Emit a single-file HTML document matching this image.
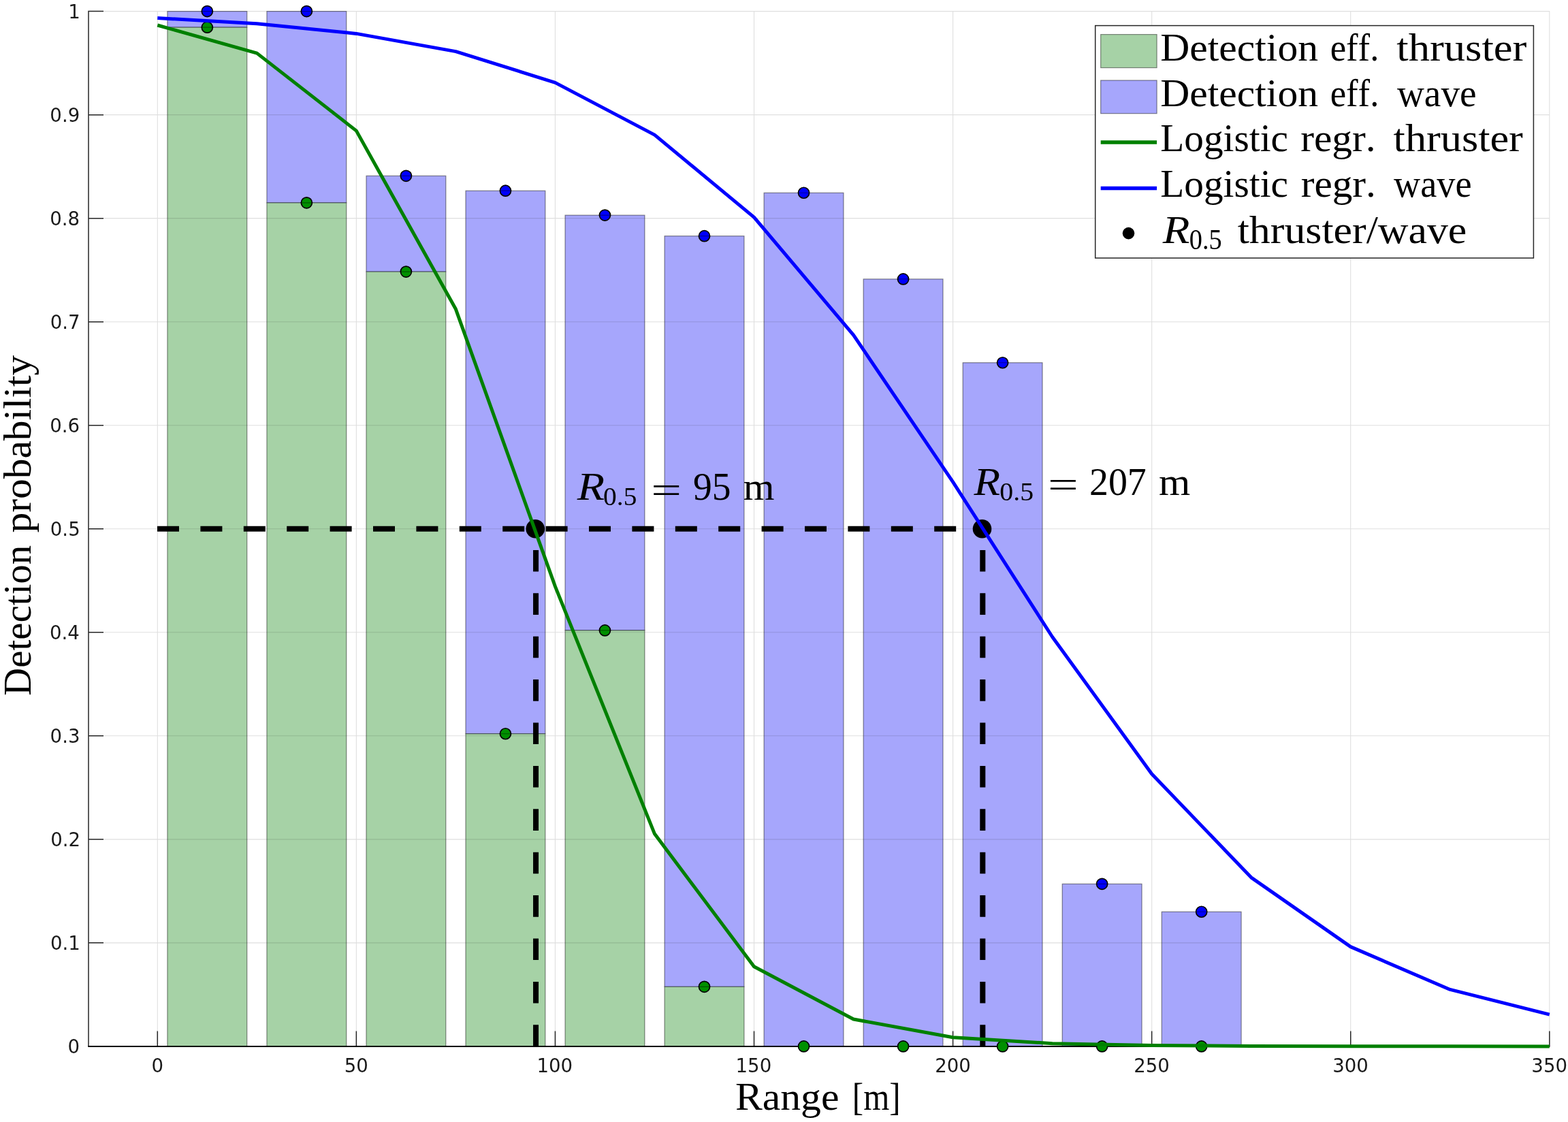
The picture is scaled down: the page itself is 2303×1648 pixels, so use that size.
<!DOCTYPE html><html><head><meta charset="utf-8"><title>Detection probability vs range</title>
<style>html,body{margin:0;padding:0;background:#fff;overflow:hidden;}svg{display:block;}text{font-kerning:none;font-variant-ligatures:none;}.tk{font-family:"DejaVu Sans","Liberation Sans",sans-serif;fill:#1a1a1a;}.tx{font-family:"Liberation Serif",serif;fill:#000;}.ti{font-family:"Liberation Serif",serif;font-style:italic;fill:#000;}</style></head><body>
<svg width="2303" height="1648" viewBox="0 0 2303 1648">
<rect x="0" y="0" width="2303" height="1648" fill="#fff"/>
<rect x="245.9" y="16.6" width="116.83" height="23.56" fill="#a6a6fc" stroke="#000" stroke-opacity="0.45" stroke-width="1.2"/>
<rect x="245.9" y="40.16" width="116.83" height="1496.74" fill="#a6d2a6" stroke="#000" stroke-opacity="0.45" stroke-width="1.2"/>
<rect x="391.94" y="16.6" width="116.83" height="281.26" fill="#a6a6fc" stroke="#000" stroke-opacity="0.45" stroke-width="1.2"/>
<rect x="391.94" y="297.86" width="116.83" height="1239.04" fill="#a6d2a6" stroke="#000" stroke-opacity="0.45" stroke-width="1.2"/>
<rect x="537.98" y="258.33" width="116.83" height="140.78" fill="#a6a6fc" stroke="#000" stroke-opacity="0.45" stroke-width="1.2"/>
<rect x="537.98" y="399.11" width="116.83" height="1137.79" fill="#a6d2a6" stroke="#000" stroke-opacity="0.45" stroke-width="1.2"/>
<rect x="684.01" y="280.22" width="116.83" height="797.55" fill="#a6a6fc" stroke="#000" stroke-opacity="0.45" stroke-width="1.2"/>
<rect x="684.01" y="1077.77" width="116.83" height="459.13" fill="#a6d2a6" stroke="#000" stroke-opacity="0.45" stroke-width="1.2"/>
<rect x="830.05" y="316.1" width="116.83" height="609.79" fill="#a6a6fc" stroke="#000" stroke-opacity="0.45" stroke-width="1.2"/>
<rect x="830.05" y="925.89" width="116.83" height="611.01" fill="#a6d2a6" stroke="#000" stroke-opacity="0.45" stroke-width="1.2"/>
<rect x="976.08" y="346.66" width="116.83" height="1102.67" fill="#a6a6fc" stroke="#000" stroke-opacity="0.45" stroke-width="1.2"/>
<rect x="976.08" y="1449.33" width="116.83" height="87.57" fill="#a6d2a6" stroke="#000" stroke-opacity="0.45" stroke-width="1.2"/>
<rect x="1122.12" y="283.26" width="116.83" height="1253.64" fill="#a6a6fc" stroke="#000" stroke-opacity="0.45" stroke-width="1.2"/>
<rect x="1268.15" y="409.9" width="116.83" height="1127" fill="#a6a6fc" stroke="#000" stroke-opacity="0.45" stroke-width="1.2"/>
<rect x="1414.19" y="532.74" width="116.83" height="1004.16" fill="#a6a6fc" stroke="#000" stroke-opacity="0.45" stroke-width="1.2"/>
<rect x="1560.23" y="1298.36" width="116.83" height="238.54" fill="#a6a6fc" stroke="#000" stroke-opacity="0.45" stroke-width="1.2"/>
<rect x="1706.26" y="1339.26" width="116.83" height="197.64" fill="#a6a6fc" stroke="#000" stroke-opacity="0.45" stroke-width="1.2"/>
<path d="M231.3 16.6V1536.9M523.37 16.6V1536.9M815.44 16.6V1536.9M1107.51 16.6V1536.9M1399.59 16.6V1536.9M1691.66 16.6V1536.9M1983.73 16.6V1536.9M2275.8 16.6V1536.9M130.8 1384.87H2276.3M130.8 1232.84H2276.3M130.8 1080.81H2276.3M130.8 928.78H2276.3M130.8 776.75H2276.3M130.8 624.72H2276.3M130.8 472.69H2276.3M130.8 320.66H2276.3M130.8 168.63H2276.3M130.8 16.6H2276.3" stroke="#262626" stroke-opacity="0.15" stroke-width="1.1" fill="none"/>
<path d="M130 15.8V1536.9M130 1536.9H152M130 1384.87H152M130 1232.84H152M130 1080.81H152M130 928.78H152M130 776.75H152M130 624.72H152M130 472.69H152M130 320.66H152M130 168.63H152M130 16.6H152M231.3 1536.9V1514.6M523.37 1536.9V1514.6M815.44 1536.9V1514.6M1107.51 1536.9V1514.6M1399.59 1536.9V1514.6M1691.66 1536.9V1514.6M1983.73 1536.9V1514.6M2275.8 1536.9V1514.6" stroke="#262626" stroke-width="1.5" fill="none"/>
<path d="M129.3 1536.9H2276.3" stroke="#000" stroke-width="2" fill="none"/>
<circle cx="304.32" cy="16.6" r="8" fill="#0000ff" stroke="#000" stroke-width="1.7"/>
<circle cx="304.32" cy="40.16" r="8" fill="#009000" stroke="#000" stroke-width="1.7"/>
<circle cx="450.35" cy="16.6" r="8" fill="#0000ff" stroke="#000" stroke-width="1.7"/>
<circle cx="450.35" cy="297.86" r="8" fill="#009000" stroke="#000" stroke-width="1.7"/>
<circle cx="596.39" cy="258.33" r="8" fill="#0000ff" stroke="#000" stroke-width="1.7"/>
<circle cx="596.39" cy="399.11" r="8" fill="#009000" stroke="#000" stroke-width="1.7"/>
<circle cx="742.43" cy="280.22" r="8" fill="#0000ff" stroke="#000" stroke-width="1.7"/>
<circle cx="742.43" cy="1077.77" r="8" fill="#009000" stroke="#000" stroke-width="1.7"/>
<circle cx="888.46" cy="316.1" r="8" fill="#0000ff" stroke="#000" stroke-width="1.7"/>
<circle cx="888.46" cy="925.89" r="8" fill="#009000" stroke="#000" stroke-width="1.7"/>
<circle cx="1034.5" cy="346.66" r="8" fill="#0000ff" stroke="#000" stroke-width="1.7"/>
<circle cx="1034.5" cy="1449.33" r="8" fill="#009000" stroke="#000" stroke-width="1.7"/>
<circle cx="1180.53" cy="283.26" r="8" fill="#0000ff" stroke="#000" stroke-width="1.7"/>
<circle cx="1180.53" cy="1536.9" r="8" fill="#009000" stroke="#000" stroke-width="1.7"/>
<circle cx="1326.57" cy="409.9" r="8" fill="#0000ff" stroke="#000" stroke-width="1.7"/>
<circle cx="1326.57" cy="1536.9" r="8" fill="#009000" stroke="#000" stroke-width="1.7"/>
<circle cx="1472.6" cy="532.74" r="8" fill="#0000ff" stroke="#000" stroke-width="1.7"/>
<circle cx="1472.6" cy="1536.9" r="8" fill="#009000" stroke="#000" stroke-width="1.7"/>
<circle cx="1618.64" cy="1298.36" r="8" fill="#0000ff" stroke="#000" stroke-width="1.7"/>
<circle cx="1618.64" cy="1536.9" r="8" fill="#009000" stroke="#000" stroke-width="1.7"/>
<circle cx="1764.68" cy="1339.26" r="8" fill="#0000ff" stroke="#000" stroke-width="1.7"/>
<circle cx="1764.68" cy="1536.9" r="8" fill="#009000" stroke="#000" stroke-width="1.7"/>
<path d="M295.32 16.6H313.32M295.32 40.16H313.32M441.35 16.6H459.35M441.35 297.86H459.35M587.39 258.33H605.39M587.39 399.11H605.39M733.43 280.22H751.43M733.43 1077.77H751.43M879.46 316.1H897.46M879.46 925.89H897.46M1025.5 346.66H1043.5M1025.5 1449.33H1043.5M1171.53 283.26H1189.53M1317.57 409.9H1335.57M1463.6 532.74H1481.6M1609.64 1298.36H1627.64M1755.68 1339.26H1773.68" stroke="#000" stroke-opacity="0.4" stroke-width="1.2" fill="none"/>
<path d="M231 776.75H1442.52" stroke="#000" stroke-width="8" stroke-dasharray="32 31.4" fill="none"/>
<path d="M787.04 1536.9V776.75" stroke="#000" stroke-width="8" stroke-dasharray="31.6 31.8" fill="none"/>
<path d="M1443.32 1536.9V776.75" stroke="#000" stroke-width="8" stroke-dasharray="31.6 31.8" fill="none"/>
<circle cx="786.24" cy="776.75" r="13.8" fill="#000"/>
<circle cx="1442.52" cy="776.75" r="13.8" fill="#000"/>
<polyline points="231.3,26.52 377.34,34.68 523.37,49.39 669.41,75.62 815.44,121.35 961.48,198.12 1107.51,319.12 1253.55,492.12 1399.59,707.9 1545.62,935.48 1691.66,1136.74 1837.69,1288.84 1983.73,1390.67 2129.76,1453.44 2275.8,1490.18" stroke="#0000ff" stroke-width="5.0" fill="none" stroke-linejoin="round"/>
<polyline points="231.3,37.03 377.34,78.1 523.37,192.12 669.41,454.09 815.44,861.44 961.48,1224.84 1107.51,1419.83 1253.55,1497 1399.59,1523.78 1545.62,1532.64 1691.66,1535.52 1837.69,1536.45 1983.73,1536.76 2129.76,1536.85 2275.8,1536.88" stroke="#008000" stroke-width="5.0" fill="none" stroke-linejoin="round"/>
<text class="tk" x="99.57" y="1547.45" font-size="27.6">0</text>
<text class="tk" x="73.95" y="1395.42" font-size="27.6">0.1</text>
<text class="tk" x="74.17" y="1243.39" font-size="27.6">0.2</text>
<text class="tk" x="73.62" y="1091.36" font-size="27.6">0.3</text>
<text class="tk" x="72.96" y="939.33" font-size="27.6">0.4</text>
<text class="tk" x="73.82" y="787.3" font-size="27.6">0.5</text>
<text class="tk" x="73.15" y="635.27" font-size="27.6">0.6</text>
<text class="tk" x="73.77" y="483.24" font-size="27.6">0.7</text>
<text class="tk" x="73.29" y="331.21" font-size="27.6">0.8</text>
<text class="tk" x="73.35" y="179.18" font-size="27.6">0.9</text>
<text class="tk" x="100.29" y="27.16" font-size="27.6">1</text>
<text class="tk" x="222.53" y="1574.6" font-size="27.6">0</text>
<text class="tk" x="505.66" y="1574.6" font-size="27.6">50</text>
<text class="tk" x="788.5" y="1574.6" font-size="27.6">100</text>
<text class="tk" x="1080.57" y="1574.6" font-size="27.6">150</text>
<text class="tk" x="1373.15" y="1574.6" font-size="27.6">200</text>
<text class="tk" x="1665.22" y="1574.6" font-size="27.6">250</text>
<text class="tk" x="1957.25" y="1574.6" font-size="27.6">300</text>
<text class="tk" x="2249.33" y="1574.6" font-size="27.6">350</text>
<text class="tx" x="1079.98" y="1629.9" font-size="58" textLength="152.49" lengthAdjust="spacingAndGlyphs">Range</text>
<text class="tx" x="1251.86" y="1629.9" font-size="58" textLength="70.78" lengthAdjust="spacingAndGlyphs">[m]</text>
<text class="tx" transform="translate(44.6 1021.94) rotate(-90)" x="0" y="0" font-size="58" textLength="221.2" lengthAdjust="spacingAndGlyphs">Detection</text>
<text class="tx" transform="translate(44.6 782.56) rotate(-90)" x="0" y="0" font-size="58" textLength="260.79" lengthAdjust="spacingAndGlyphs">probability</text>
<text class="ti" x="847.65" y="734.4" font-size="58" textLength="40.34" lengthAdjust="spacingAndGlyphs">R</text>
<text class="tx" x="886.1" y="742" font-size="37" textLength="49.24" lengthAdjust="spacingAndGlyphs">0.5</text>
<text class="tx" x="956.34" y="738.9" font-size="58" textLength="44.84" lengthAdjust="spacingAndGlyphs">=</text>
<text class="tx" x="1017.91" y="734.4" font-size="58" textLength="55.56" lengthAdjust="spacingAndGlyphs">95</text>
<text class="tx" x="1091.86" y="734.4" font-size="58" textLength="45.75" lengthAdjust="spacingAndGlyphs">m</text>
<text class="ti" x="1430.54" y="726.6" font-size="58" textLength="38.61" lengthAdjust="spacingAndGlyphs">R</text>
<text class="tx" x="1468.38" y="735" font-size="37" textLength="49.77" lengthAdjust="spacingAndGlyphs">0.5</text>
<text class="tx" x="1539.04" y="731.1" font-size="58" textLength="44.84" lengthAdjust="spacingAndGlyphs">=</text>
<text class="tx" x="1599.94" y="726.6" font-size="58" textLength="83.87" lengthAdjust="spacingAndGlyphs">207</text>
<text class="tx" x="1702.05" y="726.6" font-size="58" textLength="46.28" lengthAdjust="spacingAndGlyphs">m</text>
<rect x="1608.7" y="37.6" width="643.7" height="341.4" fill="#fff" stroke="#262626" stroke-width="1.5"/>
<rect x="1616.7" y="50.6" width="82.4" height="48.9" fill="#a6d2a6" stroke="#000" stroke-opacity="0.45" stroke-width="1.2"/>
<rect x="1616.7" y="118" width="82.4" height="48.7" fill="#a6a6fc" stroke="#000" stroke-opacity="0.45" stroke-width="1.2"/>
<path d="M1616.7 209H1699.1" stroke="#008000" stroke-width="5.5"/>
<path d="M1616.7 276.6H1699.1" stroke="#0000ff" stroke-width="5.5"/>
<circle cx="1657.5" cy="342.6" r="8.8" fill="#000"/>
<text class="tx" x="1704.18" y="88.6" font-size="58" textLength="231.92" lengthAdjust="spacingAndGlyphs">Detection</text>
<text class="tx" x="1953.64" y="88.6" font-size="58" textLength="71.74" lengthAdjust="spacingAndGlyphs">eff.</text>
<text class="tx" x="2051.39" y="88.6" font-size="58" textLength="190.96" lengthAdjust="spacingAndGlyphs">thruster</text>
<text class="tx" x="1704.18" y="156" font-size="58" textLength="231.92" lengthAdjust="spacingAndGlyphs">Detection</text>
<text class="tx" x="1953.64" y="156" font-size="58" textLength="71.74" lengthAdjust="spacingAndGlyphs">eff.</text>
<text class="tx" x="2051.95" y="156" font-size="58" textLength="116.67" lengthAdjust="spacingAndGlyphs">wave</text>
<text class="tx" x="1704.25" y="221.8" font-size="58" textLength="187.81" lengthAdjust="spacingAndGlyphs">Logistic</text>
<text class="tx" x="1910.21" y="221.8" font-size="58" textLength="110.51" lengthAdjust="spacingAndGlyphs">regr.</text>
<text class="tx" x="2046.59" y="221.8" font-size="58" textLength="190.26" lengthAdjust="spacingAndGlyphs">thruster</text>
<text class="tx" x="1704.25" y="289.2" font-size="58" textLength="187.81" lengthAdjust="spacingAndGlyphs">Logistic</text>
<text class="tx" x="1910.71" y="289.2" font-size="58" textLength="110.19" lengthAdjust="spacingAndGlyphs">regr.</text>
<text class="tx" x="2046.95" y="289.2" font-size="58" textLength="114.64" lengthAdjust="spacingAndGlyphs">wave</text>
<text class="ti" x="1707.65" y="356.6" font-size="58" textLength="39.73" lengthAdjust="spacingAndGlyphs">R</text>
<text class="tx" x="1746.74" y="366" font-size="42.5" textLength="47.96" lengthAdjust="spacingAndGlyphs">0.5</text>
<text class="tx" x="1817.7" y="356.6" font-size="58" textLength="336.65" lengthAdjust="spacingAndGlyphs">thruster/wave</text>
</svg></body></html>
